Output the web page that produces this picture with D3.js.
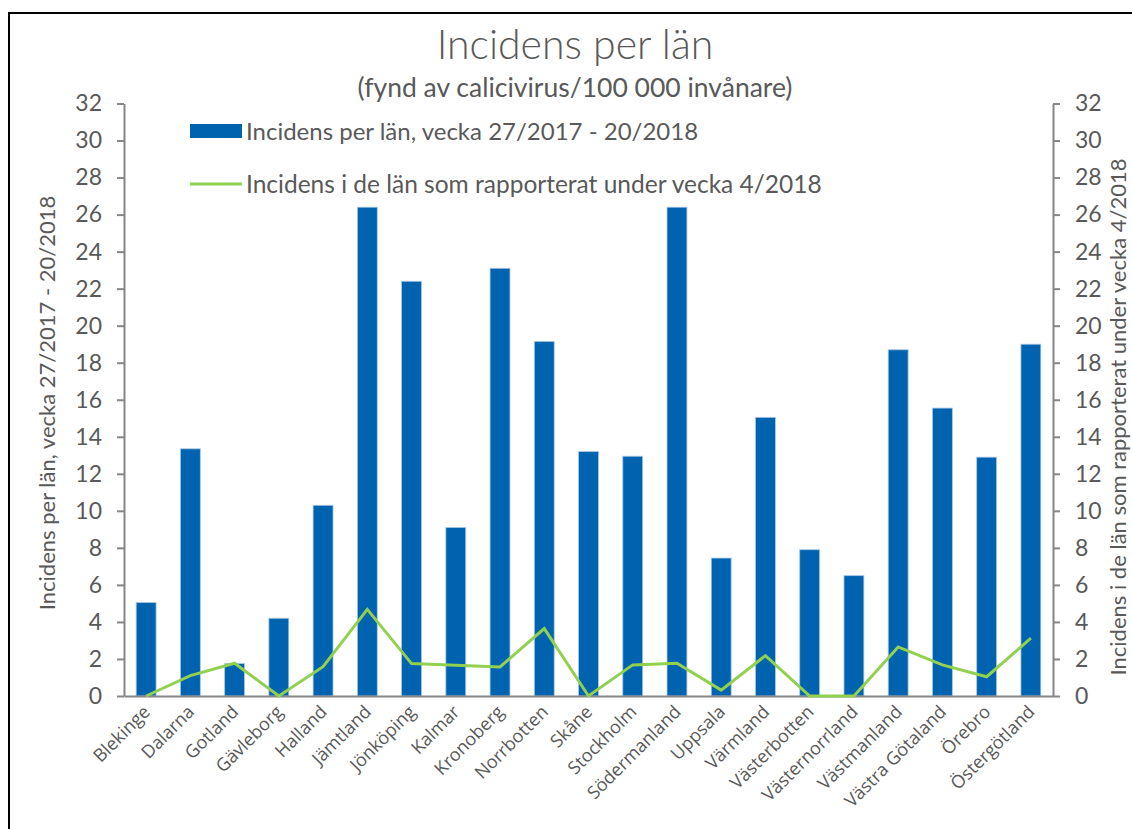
<!DOCTYPE html>
<html>
<head>
<meta charset="utf-8">
<script src="https://cdn.jsdelivr.net/npm/d3@7"></script>
<style>
  html, body { margin: 0; padding: 0; background: #fff; }
  svg { display: block; }
</style>
</head>
<body>
<svg id="chart" width="1132" height="829"></svg>
<script>
const categories = ["Blekinge","Dalarna","Gotland","Gävleborg","Halland","Jämtland","Jönköping","Kalmar","Kronoberg","Norrbotten","Skåne","Stockholm","Södermanland","Uppsala","Värmland","Västerbotten","Västernorrland","Västmanland","Västra Götaland","Örebro","Östergötland"];
const incidensPeriod = [5.05,13.35,1.75,4.2,10.3,26.4,22.4,9.1,23.1,19.15,13.2,12.95,26.4,7.45,15.05,7.9,6.5,18.7,15.55,12.9,19.0];
const incidensVecka4 = [0,1.1,1.77,0,1.58,4.68,1.75,1.66,1.57,3.64,0,1.68,1.77,0.32,2.18,0,0,2.65,1.68,1.04,3.12];
const yTicks = [0,2,4,6,8,10,12,14,16,18,20,22,24,26,28,30,32];
const seriesNames = ["Incidens per län, vecka 27/2017 - 20/2018","Incidens i de län som rapporterat under vecka 4/2018"];
const titleText = "Incidens per län";
const subtitleText = "(fynd av calicivirus/100 000 invånare)";

(function () {
const svg = d3.select("#chart");
const pL = 124, pR = 1053, pT = 103.5, pB = 696;
const textColor = "#595959", axisColor = "#868686";
const barColor = "#0063AF", lineColor = "#92D050";
const font = "Lato, 'Open Sans', sans-serif";

// frame
svg.append("rect").attr("x", 9).attr("y", 13).attr("width", 1200).attr("height", 1000)
  .attr("fill", "none").attr("stroke", "#000").attr("stroke-width", 2);

const x = d3.scaleBand().domain(categories).range([pL, pR]).paddingInner(0.55).paddingOuter(0.275);
const y = d3.scaleLinear().domain([0, 32]).range([pB, pT]);
const y2 = d3.scaleLinear().domain([0, 32]).range([pB, pT]);

// title
svg.append("text").attr("x", 575).attr("y", 59).attr("text-anchor", "middle")
  .attr("font-family", font).attr("font-size", 41).attr("font-weight", 300).attr("fill", textColor).text(titleText);
svg.append("text").attr("x", 575).attr("y", 97).attr("text-anchor", "middle")
  .attr("font-family", font).attr("font-size", 26.5).attr("fill", textColor).text(subtitleText);

// bars
svg.append("g").selectAll("rect").data(categories).join("rect")
  .attr("x", d => x(d)).attr("width", x.bandwidth())
  .attr("y", (d, i) => y(incidensPeriod[i]))
  .attr("height", (d, i) => pB - y(incidensPeriod[i]))
  .attr("fill", barColor).attr("stroke", "#a9c8e6").attr("stroke-width", 0.8);

// axes
function styleAxis(g) {
  g.selectAll("path").attr("stroke", axisColor).attr("stroke-width", 2);
  g.selectAll("line").attr("stroke", axisColor).attr("stroke-width", 2);
  g.selectAll("text").attr("fill", textColor).attr("font-family", font).attr("font-size", 23);
}
svg.append("g").attr("transform", `translate(${pL},0)`)
  .call(d3.axisLeft(y).tickValues(yTicks).tickSize(7).tickSizeOuter(0).tickPadding(15))
  .call(styleAxis);
svg.append("g").attr("transform", `translate(${pR},0)`)
  .call(d3.axisRight(y2).tickValues(yTicks).tickSize(7).tickSizeOuter(0).tickPadding(15))
  .call(styleAxis);

const xAxis = svg.append("g").attr("transform", `translate(0,${pB})`)
  .call(d3.axisBottom(x).tickSize(0).tickSizeOuter(0).tickPadding(0));
xAxis.select("path").attr("stroke", axisColor).attr("stroke-width", 2);
xAxis.selectAll("text")
  .attr("fill", textColor).attr("font-family", "'Open Sans', sans-serif").attr("font-size", 18)
  .attr("text-anchor", "end").attr("dy", null).attr("y", 0)
  .attr("transform", "translate(5,17) rotate(-45)");

// line
const line = d3.line().x((d, i) => x(categories[i]) + x.bandwidth() / 2).y(d => y2(d));
svg.append("path").datum(incidensVecka4).attr("d", line)
  .attr("fill", "none").attr("stroke", lineColor).attr("stroke-width", 3).attr("stroke-linejoin", "miter");

// legend
const lg = svg.append("g");
lg.append("rect").attr("x", 190).attr("y", 124).attr("width", 52).attr("height", 14).attr("fill", barColor);
lg.append("text").attr("x", 246).attr("y", 140).attr("font-family", font).attr("font-size", 24).attr("fill", textColor).text(seriesNames[0]);
lg.append("line").attr("x1", 190).attr("x2", 242).attr("y1", 184).attr("y2", 184).attr("stroke", lineColor).attr("stroke-width", 3);
lg.append("text").attr("x", 246).attr("y", 193).attr("font-family", font).attr("font-size", 24.5).attr("fill", textColor).text(seriesNames[1]);

// axis titles
svg.append("text").attr("transform", "translate(55,403) rotate(-90)").attr("text-anchor", "middle")
  .attr("font-family", font).attr("font-size", 22).attr("fill", textColor).text(seriesNames[0]);
svg.append("text").attr("transform", "translate(1126,417) rotate(-90)").attr("text-anchor", "middle")
  .attr("font-family", font).attr("font-size", 22).attr("fill", textColor).text(seriesNames[1]);
})();
</script>
</body>
</html>
